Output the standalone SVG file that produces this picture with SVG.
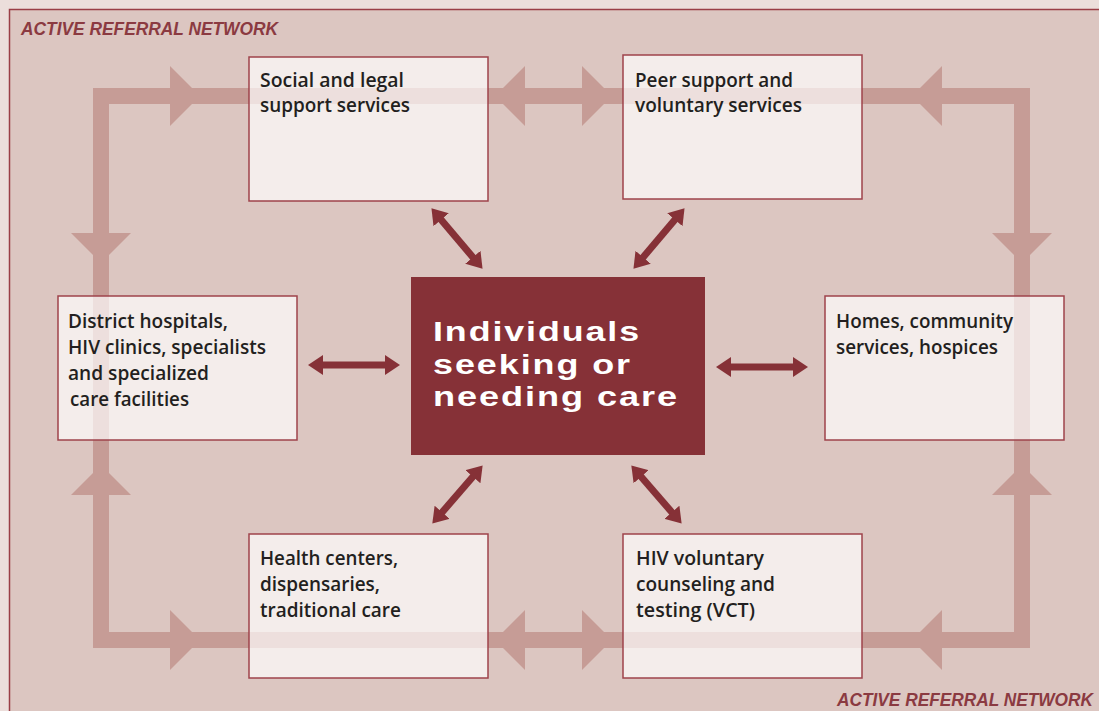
<svg xmlns="http://www.w3.org/2000/svg" width="1099" height="711" viewBox="0 0 1099 711">
<defs>
<style>
.box{fill:#ffffff;fill-opacity:0.68;stroke:#9e434b;stroke-width:1.5}
.lbl{font-family:"Open Sans","Liberation Sans",sans-serif;font-weight:600;font-size:19.5px;fill:#231f20}
.title{font-family:"Liberation Sans",Arial,sans-serif;font-weight:bold;font-style:italic;font-size:17.5px;fill:#8b3a41}
.center{font-family:"Liberation Sans",Arial,sans-serif;font-weight:bold;font-size:28px;fill:#ffffff;letter-spacing:1.5px}
.band{fill:none;stroke:#c69c96;stroke-width:16}
.head{fill:#c69c96}
.dbl{stroke:#863137;stroke-width:7;fill:none;marker-start:url(#ah);marker-end:url(#ah)}
</style>
<marker id="ah" viewBox="0 -10 15 20" markerUnits="userSpaceOnUse" markerWidth="15" markerHeight="20" refX="1" refY="0" orient="auto-start-reverse">
<path d="M0,-10 L15,0 L0,10 z" fill="#863137"/>
</marker>
</defs>
<rect x="0" y="0" width="1099" height="711" fill="#ecdedb"/>
<rect x="9.5" y="9.5" width="1100" height="710" fill="#dcc6c1" stroke="#9a3e46" stroke-width="1.5"/>
<text class="title" x="21" y="35" textLength="257" lengthAdjust="spacingAndGlyphs">ACTIVE REFERRAL NETWORK</text>
<text class="title" x="837" y="706" textLength="256" lengthAdjust="spacingAndGlyphs">ACTIVE REFERRAL NETWORK</text>

<g id="loop">
<rect class="band" x="101" y="96" width="921" height="544"/>
<polygon class="head" points="170,66 200,96 170,126"/>
<polygon class="head" points="525,66 495,96 525,126"/>
<polygon class="head" points="582,66 612,96 582,126"/>
<polygon class="head" points="942,66 912,96 942,126"/>
<polygon class="head" points="170,610 200,640 170,670"/>
<polygon class="head" points="525,610 495,640 525,670"/>
<polygon class="head" points="582,610 612,640 582,670"/>
<polygon class="head" points="942,610 912,640 942,670"/>
<polygon class="head" points="71,233 101,263 131,233"/>
<polygon class="head" points="71,495 101,465 131,495"/>
<polygon class="head" points="992,233 1022,263 1052,233"/>
<polygon class="head" points="992,495 1022,465 1052,495"/>
</g>

<g id="connectors">
<line class="dbl" x1="322" y1="365" x2="386" y2="365"/>
<line class="dbl" x1="730" y1="367" x2="794" y2="367"/>
<line class="dbl" x1="440.5" y1="219" x2="473.5" y2="258"/>
<line class="dbl" x1="675.5" y1="219" x2="642.5" y2="258"/>
<line class="dbl" x1="473.5" y1="476" x2="441.5" y2="513"/>
<line class="dbl" x1="640.5" y1="476" x2="672.5" y2="513"/>
</g>

<g id="social">
<rect class="box" x="249" y="57" width="239" height="144"/>
<text class="lbl" x="260" y="87" textLength="144" lengthAdjust="spacingAndGlyphs">Social and legal</text>
<text class="lbl" x="260" y="112" textLength="150" lengthAdjust="spacingAndGlyphs">support services</text>
</g>
<g id="peer">
<rect class="box" x="623" y="55" width="239" height="144"/>
<text class="lbl" x="635" y="87" textLength="158" lengthAdjust="spacingAndGlyphs">Peer support and</text>
<text class="lbl" x="635" y="112" textLength="167" lengthAdjust="spacingAndGlyphs">voluntary services</text>
</g>
<g id="district">
<rect class="box" x="58" y="296" width="239" height="144"/>
<text class="lbl" x="68" y="328" textLength="160" lengthAdjust="spacingAndGlyphs">District hospitals,</text>
<text class="lbl" x="68" y="354" textLength="198" lengthAdjust="spacingAndGlyphs">HIV clinics, specialists</text>
<text class="lbl" x="68" y="380" textLength="141" lengthAdjust="spacingAndGlyphs">and specialized</text>
<text class="lbl" x="70" y="406" textLength="119" lengthAdjust="spacingAndGlyphs">care facilities</text>
</g>
<g id="homes">
<rect class="box" x="825" y="296" width="239" height="144"/>
<text class="lbl" x="836" y="328" textLength="177" lengthAdjust="spacingAndGlyphs">Homes, community</text>
<text class="lbl" x="836" y="354" textLength="162" lengthAdjust="spacingAndGlyphs">services, hospices</text>
</g>
<g id="health">
<rect class="box" x="249" y="534" width="239" height="144"/>
<text class="lbl" x="260" y="565" textLength="138" lengthAdjust="spacingAndGlyphs">Health centers,</text>
<text class="lbl" x="260" y="591" textLength="120" lengthAdjust="spacingAndGlyphs">dispensaries,</text>
<text class="lbl" x="260" y="617" textLength="141" lengthAdjust="spacingAndGlyphs">traditional care</text>
</g>
<g id="vct">
<rect class="box" x="623" y="534" width="239" height="144"/>
<text class="lbl" x="636" y="565" textLength="128" lengthAdjust="spacingAndGlyphs">HIV voluntary</text>
<text class="lbl" x="636" y="591" textLength="139" lengthAdjust="spacingAndGlyphs">counseling and</text>
<text class="lbl" x="636" y="617" textLength="119" lengthAdjust="spacingAndGlyphs">testing (VCT)</text>
</g>
<g id="individuals">
<rect x="411" y="277" width="294" height="178" fill="#863137"/>
<text class="center" x="433" y="341" textLength="208" lengthAdjust="spacingAndGlyphs">Individuals</text>
<text class="center" x="433" y="374" textLength="199" lengthAdjust="spacingAndGlyphs">seeking or</text>
<text class="center" x="433" y="406" textLength="246" lengthAdjust="spacingAndGlyphs">needing care</text>
</g>
</svg>
